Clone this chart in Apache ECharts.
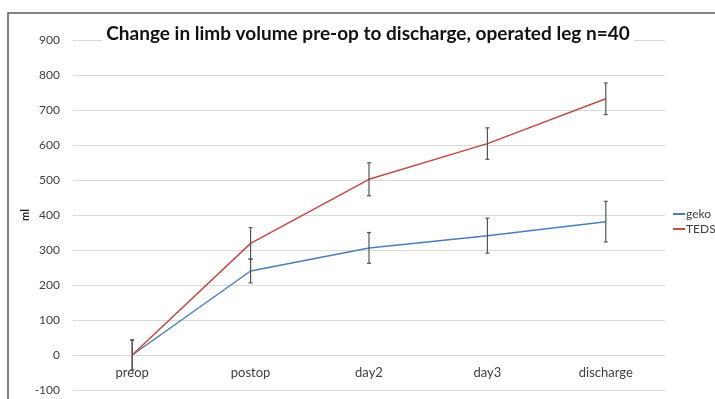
<!DOCTYPE html>
<html><head><meta charset="utf-8">
<script src="https://cdn.jsdelivr.net/npm/echarts@6/dist/echarts.min.js"></script>
<style>html,body{margin:0;padding:0;background:#fff}#c{width:715px;height:399px}</style>
</head><body><div id="c"></div>
<script>
var categories = ['preop', 'postop', 'day2', 'day3', 'discharge'];
var gekoValues = [0, 240, 306, 341, 381];
var gekoErrors = [43, 34, 44, 50, 58];
var tedsValues = [0, 319, 502, 604, 732];
var tedsErrors = [43, 45, 47, 45, 45];
var yTicks = {min: -100, max: 900, interval: 100};

function errData(vals, errs) {
  return vals.map(function (v, i) { return [i, v - errs[i], v + errs[i]]; });
}
function errRender(params, api) {
  var x = api.value(0);
  var lo = api.coord([x, api.value(1)]);
  var hi = api.coord([x, api.value(2)]);
  var w = 2;
  var st = {stroke: '#555', lineWidth: 1.2};
  return {type: 'group', children: [
    {type: 'line', shape: {x1: hi[0], y1: hi[1], x2: lo[0], y2: lo[1]}, style: st},
    {type: 'line', shape: {x1: hi[0] - w, y1: hi[1], x2: hi[0] + w, y2: hi[1]}, style: st},
    {type: 'line', shape: {x1: lo[0] - w, y1: lo[1], x2: lo[0] + w, y2: lo[1]}, style: st}
  ]};
}
var font = 'Lato, "Open Sans", sans-serif';
var gridH = 350;
var zeroOffset = -gridH * (0 - yTicks.min) / (yTicks.max - yTicks.min);
var chart = echarts.init(document.getElementById('c'));
chart.setOption({
  animation: false,
  textStyle: {fontFamily: font},
  graphic: [
    {type: 'rect', shape: {x: 8, y: 13, width: 720, height: 400}, style: {fill: 'none', stroke: '#5a5a5a', lineWidth: 1.5}, z: 100},
    {type: 'text', x: 25, y: 215, rotation: Math.PI / 2,
      style: {text: 'ml', fill: '#222', font: 'bold 11px ' + font, align: 'center', verticalAlign: 'middle'}}
  ],
  title: {text: 'Change in limb volume pre-op to discharge, operated leg n=40', left: 364, textAlign: 'center', top: 24,
    backgroundColor: '#fff', padding: [0, 4],
    textStyle: {fontFamily: font, fontWeight: 'bold', fontSize: 19, color: '#111'}},
  legend: {orient: 'vertical', left: 668, top: 203, itemWidth: 12, itemHeight: 2, itemGap: 3, icon: 'rect',
    textStyle: {fontFamily: font, fontSize: 12, color: '#404040', padding: [0, 0, 0, -4]},
    data: [{name: 'geko'}, {name: 'TEDS'}]},
  grid: {left: 73, right: 50, top: 40, height: gridH, containLabel: false, outerBoundsMode: 'none'},
  xAxis: {type: 'category', data: categories, boundaryGap: true, position: 'bottom', offset: zeroOffset,
    axisLine: {onZero: false, lineStyle: {color: '#d9d9d9'}}, axisTick: {show: false},
    axisLabel: {color: '#404040', fontSize: 13, margin: 11, fontFamily: font}},
  yAxis: {type: 'value', min: yTicks.min, max: yTicks.max, interval: yTicks.interval,
    axisLine: {show: false}, axisTick: {show: false},
    axisLabel: {color: '#404040', fontSize: 12, margin: 13, fontFamily: font},
    splitLine: {lineStyle: {color: '#d9d9d9', width: 1}}},
  series: [
    {name: 'geko', type: 'line', data: gekoValues, showSymbol: false, symbol: 'none',
      itemStyle: {color: '#4a7ebb'}, lineStyle: {color: '#4a7ebb', width: 1.5}, z: 3},
    {name: 'TEDS', type: 'line', data: tedsValues, showSymbol: false, symbol: 'none',
      itemStyle: {color: '#be4b48'}, lineStyle: {color: '#be4b48', width: 1.5}, z: 3},
    {name: 'gekoErr', type: 'custom', data: errData(gekoValues, gekoErrors), renderItem: errRender,
      encode: {x: 0, y: [1, 2]}, z: 4},
    {name: 'tedsErr', type: 'custom', data: errData(tedsValues, tedsErrors), renderItem: errRender,
      encode: {x: 0, y: [1, 2]}, z: 4}
  ]
});
</script></body></html>
